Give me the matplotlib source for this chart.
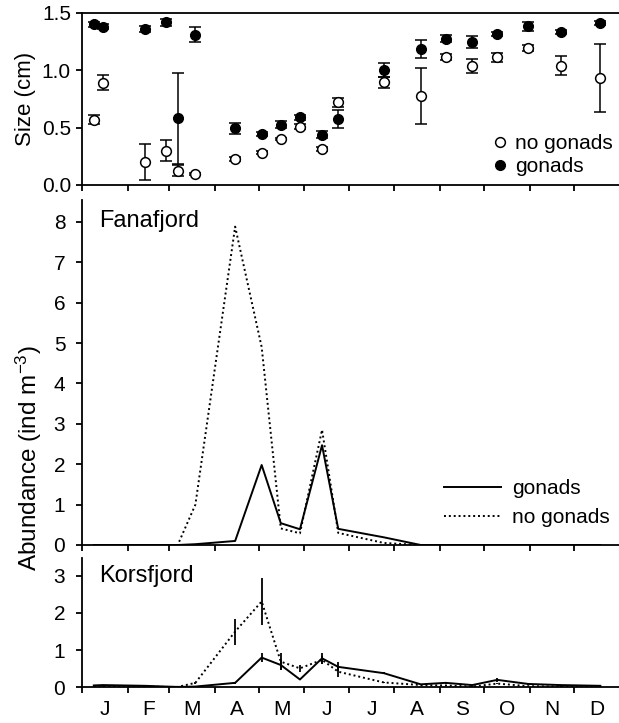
import matplotlib
matplotlib.use('Agg')
import matplotlib.pyplot as plt
from matplotlib.lines import Line2D

plt.rcParams['font.family'] = ['Liberation Sans', 'DejaVu Sans']
plt.rcParams['mathtext.fontset'] = 'custom'
plt.rcParams['mathtext.rm'] = 'Liberation Sans'
plt.rcParams['mathtext.it'] = 'Liberation Sans:italic'

# sampling dates (day of year)
days = [8, 14, 43, 57, 65, 77, 104, 122, 135, 148, 163, 174, 205, 230, 247, 265, 282, 303, 325, 352]

# Size (cm)
size_gonads = [1.40, 1.38, 1.36, 1.42, 0.58, 1.31, 0.495, 0.446, 0.524, 0.59, 0.437, 0.574,
               1.005, 1.186, 1.274, 1.247, 1.317, 1.384, 1.335, 1.413]
size_gonads_err = [0.02, 0.02, 0.03, 0.03, 0.40, 0.065, 0.05, 0.02, 0.03, 0.02, 0.03, 0.08,
                   0.06, 0.08, 0.03, 0.05, 0.02, 0.04, 0.02, 0.02]
size_nogonads = [0.57, 0.89, 0.20, 0.30, 0.125, 0.093, 0.225, 0.283, 0.40, 0.51, 0.315, 0.72,
                 0.894, 0.778, 1.116, 1.04, 1.113, 1.195, 1.04, 0.933]
size_nogonads_err = [0.04, 0.065, 0.155, 0.095, 0.05, 0.01, 0.02, 0.01, 0.01, 0.02, 0.02, 0.04,
                     0.05, 0.245, 0.03, 0.06, 0.04, 0.03, 0.085, 0.295]

# Fanafjord abundance (ind m-3)
fana_gonads = [0, 0, 0, 0, 0, 0.02, 0.1, 1.98, 0.54, 0.39, 2.47, 0.40,
               0.19, 0, 0, 0, 0, 0, 0, 0]
fana_nogonads = [0, 0, 0, 0, 0, 1.0, 7.88, 4.9, 0.41, 0.29, 2.85, 0.30,
                 0.05, 0, 0, 0, 0, 0, 0, 0]

# Korsfjord abundance (ind m-3)
kors_gonads = [0.05, 0.06, 0.04, 0.02, 0.01, 0.02, 0.12, 0.80, 0.60, 0.21, 0.78, 0.55,
               0.38, 0.08, 0.12, 0.06, 0.20, 0.09, 0.06, 0.04]
kors_gonads_err = [0.01, 0.01, 0.01, 0.01, 0.01, 0.01, 0.02, 0.12, 0.13, 0.02, 0.15, 0.12,
                   0.03, 0.02, 0.02, 0.01, 0.05, 0.02, 0.01, 0.01]
kors_nogonads = [0.02, 0.03, 0.02, 0.01, 0.01, 0.12, 1.50, 2.31, 0.69, 0.51, 0.74, 0.42,
                 0.13, 0.06, 0.05, 0.02, 0.10, 0.03, 0.02, 0.02]
kors_nogonads_err = [0.01, 0.01, 0.01, 0.01, 0.01, 0.02, 0.35, 0.62, 0.22, 0.10, 0.10, 0.15,
                     0.02, 0.01, 0.01, 0.01, 0.02, 0.01, 0.01, 0.01]

month_labels = ['J', 'F', 'M', 'A', 'M', 'J', 'J', 'A', 'S', 'O', 'N', 'D']
month_starts = [0, 31, 59, 90, 120, 151, 181, 212, 243, 273, 304, 334, 365]

W, H = 619, 723
fig = plt.figure(figsize=(W / 100, H / 100), dpi=100)

def ax_at(l, t, r, b):
    return fig.add_axes([l / W, 1 - b / H, (r - l) / W, (b - t) / H])

ax1 = ax_at(82, 13, 619.5, 185)
ax2 = ax_at(82, 200, 619.5, 545)
ax3 = ax_at(82, 558, 619.5, 687.3)

TICKFS = 15
LW = 1.1
dotted = (0, (1, 1.5))

mid_month = [(month_starts[i] + month_starts[i + 1]) / 2 for i in range(12)]

for ax in (ax1, ax2, ax3):
    ax.set_xlim(0, 365)
    ax.spines['right'].set_visible(False)
    for s in ax.spines.values():
        s.set_linewidth(1.3)
    ax.set_xticks(month_starts[:12])
    ax.set_xticklabels([])
    ax.tick_params(axis='both', direction='out', length=4, width=1.3, labelsize=TICKFS)
    ax.tick_params(axis='x', which='minor', length=0)
ax2.spines['top'].set_visible(False)
ax3.spines['top'].set_visible(False)

# --- top panel: size
ax1.errorbar(days, size_gonads, yerr=size_gonads_err, fmt='o', color='black',
             markersize=7, capsize=4.5, elinewidth=LW, capthick=LW, zorder=3)
ax1.errorbar(days, size_nogonads, yerr=size_nogonads_err, fmt='o', color='black',
             mfc='white', mec='black', mew=1.1, markersize=7, capsize=4.5,
             elinewidth=LW, capthick=LW, zorder=4)
ax1.set_ylim(0, 1.5)
ax1.set_yticks([0, 0.5, 1.0, 1.5])
ax1.set_yticklabels(['0.0', '0.5', '1.0', '1.5'])
ax1.tick_params(axis='y', pad=4)
h_open = Line2D([], [], ls='none', marker='o', mfc='white', mec='black', mew=1.1, ms=7)
h_fill = Line2D([], [], ls='none', marker='o', color='black', ms=7)
ax1.legend([h_open, h_fill], ['no gonads', 'gonads'], loc='center left',
           bbox_to_anchor=((489.6 - 82) / 537, (185 - 155) / 172), frameon=False,
           fontsize=15, handlelength=1.0, handletextpad=0.22, borderpad=0,
           borderaxespad=0, labelspacing=0.2, numpoints=1)

# --- middle panel: Fanafjord
ax2.plot(days, fana_gonads, color='black', lw=1.4, label='gonads')
ax2.plot(days, fana_nogonads, color='black', lw=1.4, ls=dotted, label='no gonads')
ax2.set_ylim(0, 8.54)
ax2.set_yticks(range(0, 9))
ax2.tick_params(axis='y', pad=8)
ax2.text((99 - 82) / 537, 0.921, 'Fanafjord', transform=ax2.transAxes,
         fontsize=17, va='baseline', ha='left')
ax2.legend(loc='center left', bbox_to_anchor=((444 - 82) / 537, (545 - 503) / 345),
           frameon=False, fontsize=15, handlelength=2.7, handletextpad=0.56,
           borderpad=0, borderaxespad=0, labelspacing=0.5)

# --- bottom panel: Korsfjord
ax3.errorbar(days, kors_nogonads, yerr=kors_nogonads_err, color='black', lw=1.4,
             ls=dotted, elinewidth=1.3, capsize=0)
ax3.errorbar(days, kors_gonads, yerr=kors_gonads_err, color='black', lw=1.4,
             elinewidth=1.3, capsize=0)
ax3.set_ylim(0, 3.48)
ax3.set_yticks([0, 1, 2, 3])
ax3.tick_params(axis='y', pad=8)
ax3.text((99 - 82) / 537, 0.811, 'Korsfjord', transform=ax3.transAxes,
         fontsize=17, va='baseline', ha='left')
ax3.set_xticks(mid_month, minor=True)
ax3.set_xticklabels(month_labels, minor=True)
ax3.tick_params(axis='x', which='minor', length=0, pad=9, labelsize=TICKFS)

fig.text(25 / W, 1 - 99 / H, 'Size (cm)', rotation=90, ha='center', va='center', fontsize=16)
fig.text(29 / W, 1 - 458 / H, 'Abundance (ind m$^{-3}$)', rotation=90, ha='center',
         va='center', fontsize=17.5)

fig.savefig('out.png', dpi=100)
